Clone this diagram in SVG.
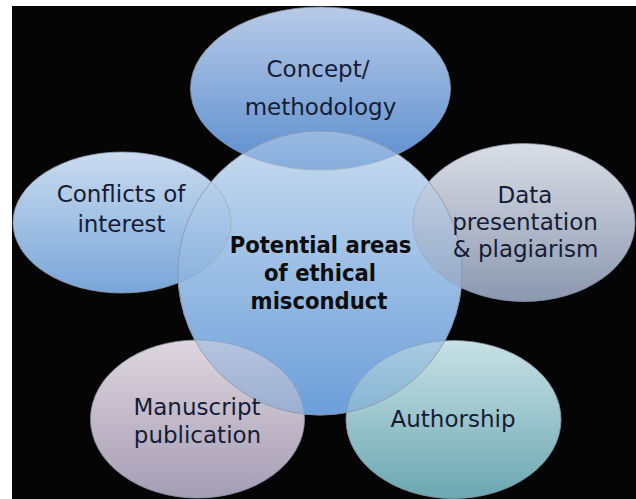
<svg xmlns="http://www.w3.org/2000/svg" width="636" height="499" viewBox="0 0 636 499">
  <defs>
    <linearGradient id="gCenter" x1="0" y1="0" x2="0" y2="1">
      <stop offset="0" stop-color="#cadcf0"/>
      <stop offset="1" stop-color="#6c9fd9"/>
    </linearGradient>
    <linearGradient id="gTop" x1="0" y1="0" x2="0" y2="1">
      <stop offset="0" stop-color="#b8cae7"/>
      <stop offset="1" stop-color="#5b8ecf"/>
    </linearGradient>
    <linearGradient id="gLeft" x1="0" y1="0" x2="0" y2="1">
      <stop offset="0" stop-color="#cadbef"/>
      <stop offset="1" stop-color="#78a6d8"/>
    </linearGradient>
    <linearGradient id="gData" x1="0" y1="0" x2="0" y2="1">
      <stop offset="0" stop-color="#dadde5"/>
      <stop offset="1" stop-color="#8c98b0"/>
    </linearGradient>
    <linearGradient id="gManu" x1="0" y1="0" x2="0" y2="1">
      <stop offset="0" stop-color="#ded6de"/>
      <stop offset="1" stop-color="#a59db3"/>
    </linearGradient>
    <linearGradient id="gAuth" x1="0" y1="0" x2="0" y2="1">
      <stop offset="0" stop-color="#c8e1e5"/>
      <stop offset="1" stop-color="#6ca7b1"/>
    </linearGradient>
  </defs>
  <style>
    .shape { stroke: #8a94a6; stroke-width: 0.8; }
    .label { font-family: "DejaVu Sans", Verdana, sans-serif; font-size: 23px; fill: #151d36; text-anchor: middle; }
    .hub { font-family: "DejaVu Sans Condensed", "DejaVu Sans", sans-serif; font-size: 23.5px; font-weight: bold; fill: #0d0d0d; text-anchor: middle; }
  </style>

  <!-- page and slide background -->
  <rect x="0" y="0" width="636" height="499" fill="#ffffff"/>
  <rect x="12" y="6" width="624" height="493" fill="#050505"/>

  <!-- central circle, base layer -->
  <circle cx="320" cy="273" r="142" fill="url(#gCenter)" class="shape"/>

  <!-- satellites -->
  <g id="concept">
    <ellipse cx="320.5" cy="88.5" rx="130" ry="81.5" fill="url(#gTop)" class="shape"/>
  </g>
  <g id="conflicts">
    <ellipse cx="122" cy="222.5" rx="109" ry="70.5" fill="url(#gLeft)" class="shape"/>
  </g>
  <g id="data">
    <ellipse cx="524" cy="222.5" rx="111" ry="79" fill="url(#gData)" class="shape"/>
  </g>
  <g id="manuscript">
    <ellipse cx="197.5" cy="419" rx="107" ry="79" fill="url(#gManu)" class="shape"/>
  </g>
  <g id="authorship">
    <ellipse cx="453.5" cy="419.5" rx="107.5" ry="79" fill="url(#gAuth)" class="shape"/>
  </g>

  <!-- central circle, translucent overlay so the overlaps blend -->
  <g id="hub">
    <circle cx="320" cy="273" r="142" fill="url(#gCenter)" fill-opacity="0.45" class="shape"/>
  </g>

  <!-- labels -->
  <g id="labels">
    <text class="label" x="318" y="77">Concept/</text>
    <text class="label" x="320.5" y="115">methodology</text>

    <text class="label" x="121" y="202">Conflicts of</text>
    <text class="label" x="121.5" y="232">interest</text>

    <text class="label" x="525" y="203">Data</text>
    <text class="label" x="525" y="230">presentation</text>
    <text class="label" x="525.5" y="257">&amp; plagiarism</text>

    <text class="label" x="197" y="415">Manuscript</text>
    <text class="label" x="197.5" y="442.5">publication</text>

    <text class="label" x="453" y="427">Authorship</text>

    <text class="hub" x="320.5" y="253">Potential areas</text>
    <text class="hub" x="320" y="281">of ethical</text>
    <text class="hub" x="319" y="308.5">misconduct</text>
  </g>
</svg>
